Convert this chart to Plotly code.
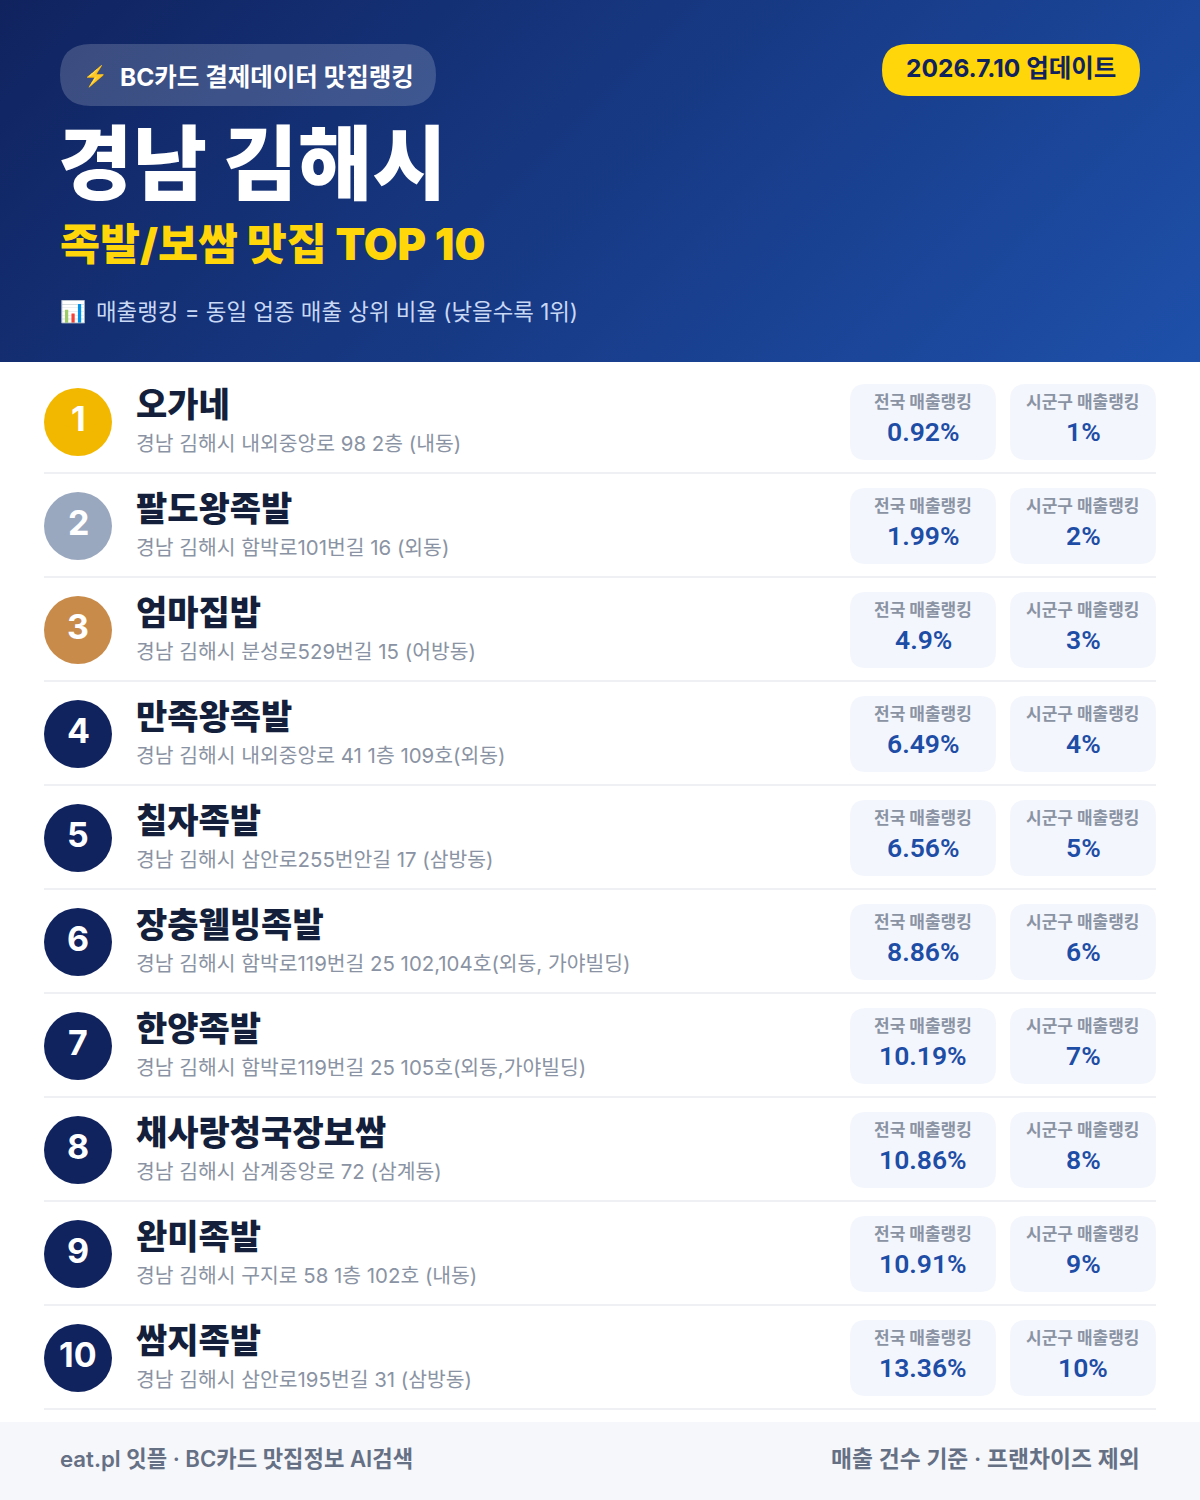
import base64
import plotly.graph_objects as go

FONT = "Inter, Noto Sans CJK KR"
VALUE_FONT = "Roboto, Noto Sans CJK KR"

# --- data ---
ranks = [1, 2, 3, 4, 5, 6, 7, 8, 9, 10]
names = ["오가네", "팔도왕족발", "엄마집밥", "만족왕족발", "칠자족발",
         "장충웰빙족발", "한양족발", "채사랑청국장보쌈", "완미족발", "쌈지족발"]
addresses = ["경남 김해시 내외중앙로 98 2층 (내동)",
             "경남 김해시 함박로101번길 16 (외동)",
             "경남 김해시 분성로529번길 15 (어방동)",
             "경남 김해시 내외중앙로 41 1층 109호(외동)",
             "경남 김해시 삼안로255번안길 17 (삼방동)",
             "경남 김해시 함박로119번길 25 102,104호(외동, 가야빌딩)",
             "경남 김해시 함박로119번길 25 105호(외동,가야빌딩)",
             "경남 김해시 삼계중앙로 72 (삼계동)",
             "경남 김해시 구지로 58 1층 102호 (내동)",
             "경남 김해시 삼안로195번길 31 (삼방동)"]
national = ["0.92%", "1.99%", "4.9%", "6.49%", "6.56%",
            "8.86%", "10.19%", "10.86%", "10.91%", "13.36%"]
local = ["1%", "2%", "3%", "4%", "5%", "6%", "7%", "8%", "9%", "10%"]
medal_colors = ["#f2b800", "#9aa8bf", "#c98b4a"] + ["#10235f"] * 7

# 135deg header gradient, same way the page would do it in css
svg = ('<svg xmlns="http://www.w3.org/2000/svg" width="1200" height="362" preserveAspectRatio="none">'
       '<defs><linearGradient id="g" gradientUnits="userSpaceOnUse" x1="209" y1="-209" x2="991" y2="571">'
       '<stop offset="0" stop-color="#10235f"/><stop offset="1" stop-color="#1e50aa"/></linearGradient></defs>'
       '<rect width="1200" height="362" fill="url(#g)"/></svg>')
header_img = "data:image/svg+xml;base64," + base64.b64encode(svg.encode()).decode()


def rounded(x0, y0, x1, y1, r):
    return (f"M{x0+r},{y0} L{x1-r},{y0} Q{x1},{y0} {x1},{y0+r} L{x1},{y1-r} Q{x1},{y1} {x1-r},{y1} "
            f"L{x0+r},{y1} Q{x0},{y1} {x0},{y1-r} L{x0},{y0+r} Q{x0},{y0} {x0+r},{y0} Z")


def label(x, y, text, size, color, anchor="left", weight=400, family=FONT):
    # annotations carry a 2px pad, taken back here with the shift
    shift = {"left": -2, "center": 0, "right": 2}[anchor]
    fig.add_annotation(x=x, y=y, text=text, showarrow=False, xanchor=anchor, yanchor="middle",
                       xshift=shift, xref="x", yref="y",
                       font=dict(family=family, size=size, color=color, weight=weight))


fig = go.Figure()

# rank circles
row_y = [422 + 104 * i for i in range(len(ranks))]
fig.add_trace(go.Scatter(x=[78] * len(ranks), y=row_y, mode="markers",
                         marker=dict(size=68, color=medal_colors, line_width=0),
                         hoverinfo="skip", showlegend=False))

shapes = [
    dict(type="rect", x0=0, x1=1200, y0=1422, y1=1500, fillcolor="#f5f7fb", line_width=0, layer="below"),
    dict(type="path", path=rounded(60, 44, 436, 106, 31), fillcolor="rgba(255,255,255,0.18)", line_width=0),
    dict(type="path", path=rounded(882, 44, 1140, 96, 26), fillcolor="#ffd60a", line_width=0),
]
for y in row_y:
    shapes.append(dict(type="line", x0=44, x1=1156, y0=y + 51, y1=y + 51, line=dict(color="#eef0f3", width=2), layer="below"))
    shapes.append(dict(type="path", path=rounded(850, y - 38, 996, y + 38, 16), fillcolor="#f3f6fc", line_width=0, layer="below"))
    shapes.append(dict(type="path", path=rounded(1010, y - 38, 1156, y + 38, 16), fillcolor="#f3f6fc", line_width=0, layer="below"))
fig.update_layout(shapes=shapes)

# header text
label(83, 76, "⚡", 20, "#ffd60a")
label(120, 77, "BC카드 결제데이터 맛집랭킹", 24.5, "#ffffff", weight=700)
label(1011, 68, "2026.7.10 업데이트", 24.5, "#10235f", "center", 700)
label(58, 164, "경남 김해시", 81, "#ffffff", weight=900)
label(60, 244, "족발/보쌈 맛집 TOP 10", 43.5, "#ffd60a", weight=900)
label(60, 311, "📊", 21, "#c8d8f5")
label(96, 311, "매출랭킹 = 동일 업종 매출 상위 비율 (낮을수록 1위)", 22.4, "#c8d8f5")

# rows
for i, y in enumerate(row_y):
    label(78, y - 4, str(ranks[i]), 34, "#ffffff", "center", 700)
    label(136, y - 18, names[i], 34, "#141f3c", weight=900)
    label(136, y + 21, addresses[i], 20.4, "#8a93a3")
    label(923, y - 20, "전국 매출랭킹", 17, "#8a93a3", "center", 700)
    label(923, y + 9, national[i], 26.5, "#1e4da6", "center", 600, VALUE_FONT)
    label(1083, y - 20, "시군구 매출랭킹", 17, "#8a93a3", "center", 700)
    label(1083, y + 9, local[i], 26.5, "#1e4da6", "center", 600, VALUE_FONT)

# footer
label(60, 1458, "eat.pl 잇플 · BC카드 맛집정보 AI검색", 22.2, "#667085", weight=600)
label(1140, 1458, "매출 건수 기준 · 프랜차이즈 제외", 22.8, "#667085", "right", 600)

fig.update_layout(
    width=1200, height=1500, margin=dict(l=0, r=0, t=0, b=0),
    paper_bgcolor="#ffffff", plot_bgcolor="rgba(0,0,0,0)", showlegend=False,
    xaxis=dict(range=[0, 1200], visible=False, fixedrange=True),
    yaxis=dict(range=[1500, 0], visible=False, fixedrange=True),
    images=[dict(source=header_img, xref="x", yref="y", x=0, y=0, sizex=1200, sizey=362,
                 sizing="stretch", xanchor="left", yanchor="top", layer="below")],
)

fig.write_html("out.html", config={"displayModeBar": False},
               post_script="document.body.style.margin='0';")
